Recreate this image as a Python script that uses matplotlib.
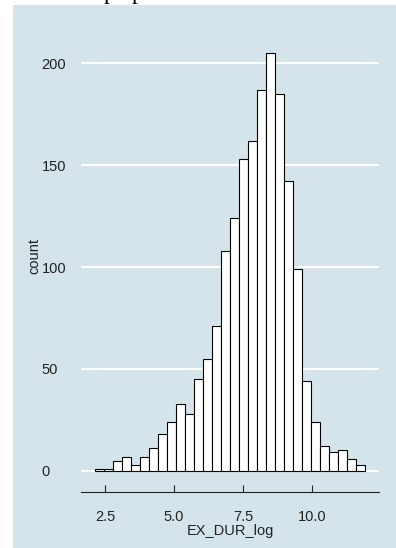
import matplotlib
matplotlib.use('Agg')
import matplotlib.pyplot as plt
import numpy as np
from matplotlib.patches import Rectangle

# histogram of log exposure duration (30 bins)
BIN_LO, BIN_HI = 2.12, 11.94
counts = [1, 1, 5, 7, 3, 7, 11, 18, 24, 33, 28, 45, 55, 71, 108,
          124, 153, 162, 187, 205, 185, 142, 99, 44, 24, 12, 9, 10, 6, 3]
x_ticks = [2.5, 5.0, 7.5, 10.0]
y_ticks = [0, 50, 100, 150, 200]

BG = "#d5e4eb"
INK = "#222222"
FS = 10.5

plt.rcParams['font.family'] = ['Liberation Sans', 'DejaVu Sans']

W, H = 396, 548
fig = plt.figure(figsize=(W / 100, H / 100), dpi=100)
fig.patch.set_facecolor("white")
fig.patches.append(Rectangle((13 / W, 0), 1 - 13 / W, (H - 5) / H,
                             transform=fig.transFigure, facecolor=BG,
                             edgecolor="none", zorder=-10))

ax = fig.add_axes([81 / W, 1 - 491.7 / H, (379 - 81) / W, (491.7 - 32.2) / H])
ax.set_facecolor(BG)

edges = np.linspace(BIN_LO, BIN_HI, len(counts) + 1)
ax.bar(edges[:-1], counts, width=np.diff(edges), align='edge',
       color="white", edgecolor="black", linewidth=0.8, zorder=2)

span = BIN_HI - BIN_LO
ax.set_xlim(BIN_LO - 0.05 * span, BIN_HI + 0.05 * span)
top = max(counts)
ax.set_ylim(-0.05 * top, 1.05 * top)

ax.set_xticks(x_ticks)
ax.set_xticklabels([f"{v:.1f}" for v in x_ticks])
ax.set_yticks(y_ticks)
ax.set_yticklabels([str(v) for v in y_ticks], ha='left')

ax.yaxis.grid(True, color="white", linewidth=1.5)
ax.xaxis.grid(False)
ax.set_axisbelow(True)

for side in ["top", "right", "left"]:
    ax.spines[side].set_visible(False)
ax.spines["bottom"].set_color(INK)
ax.spines["bottom"].set_linewidth(0.8)

ax.tick_params(axis='x', direction='in', length=4.8, width=0.8, color=INK,
               pad=13.5, labelsize=FS, labelcolor=INK)
ax.tick_params(axis='y', length=0, pad=28.4, labelsize=FS, labelcolor=INK)

ax.set_xlabel("EX_DUR_log", fontsize=FS, color=INK, labelpad=0)
fig.text(34.3 / W, 1 - 256 / H, "count", rotation=90, ha='center',
         va='center', fontsize=FS, color=INK)

# descenders of the heading cut off above the figure
for px in (104, 132):
    fig.text(px / W, 1 + 0.8 / H, "p", family="Liberation Serif",
             fontsize=17, color="black", ha='left', va='baseline')

fig.savefig("out.png", dpi=100)
